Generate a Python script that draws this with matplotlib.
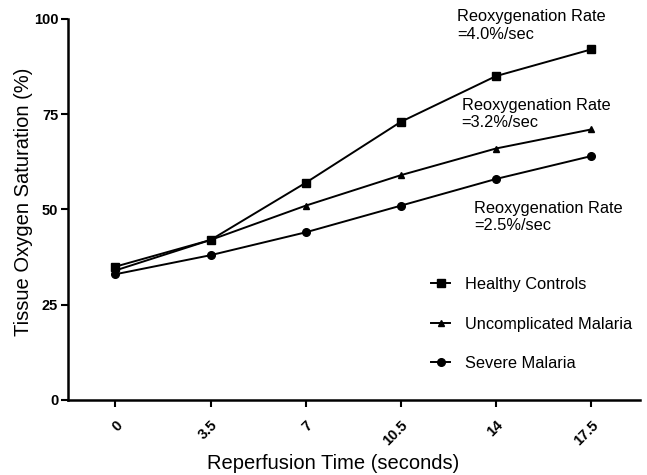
import matplotlib
matplotlib.use("Agg")
import matplotlib.pyplot as plt

plt.rcParams["font.family"] = ["Liberation Sans", "DejaVu Sans"]

times = [0, 3.5, 7, 10.5, 14, 17.5]
time_labels = ["0", "3.5", "7", "10.5", "14", "17.5"]
healthy = [35, 42, 57, 73, 85, 92]
uncomplicated = [34, 42, 51, 59, 66, 71]
severe = [33, 38, 44, 51, 58, 64]

fig = plt.figure(figsize=(6.47, 4.75), dpi=100)
ax = fig.add_axes([0.105, 0.158, 0.884, 0.802])

ax.plot(times, healthy, "-s", color="black", lw=1.4, ms=5.5, label="Healthy Controls")
ax.plot(times, uncomplicated, "-^", color="black", lw=1.4, ms=5, label="Uncomplicated Malaria")
ax.plot(times, severe, "-o", color="black", lw=1.4, ms=5.5, label="Severe Malaria")

ax.set_xlim(-1.75, 19.3)
ax.set_ylim(0, 100)
ax.set_yticks([0, 25, 50, 75, 100])
ax.set_xticks(times)
ax.set_xticklabels(time_labels, rotation=45, ha="right", rotation_mode="anchor")
for lab in ax.get_xticklabels() + ax.get_yticklabels():
    lab.set_fontweight("bold")
    lab.set_fontsize(10.5)
ax.tick_params(direction="out", length=5, width=1.5, pad=2)
ax.tick_params(axis="x", pad=8)

for s in ("top", "right"):
    ax.spines[s].set_visible(False)
for s in ("left", "bottom"):
    ax.spines[s].set_linewidth(1.8)

ax.set_ylabel("Tissue Oxygen Saturation (%)", fontsize=14.5)
ax.set_xlabel("Reperfusion Time (seconds)", fontsize=14.5)
ax.yaxis.set_label_coords(-0.061, 0.52)
ax.xaxis.set_label_coords(0.463, -0.142)

ax.text(12.56, 102.5, "Reoxygenation Rate\n=4.0%/sec", fontsize=11.8, va="top", clip_on=False)
ax.text(12.74, 79.3, "Reoxygenation Rate\n=3.2%/sec", fontsize=11.8, va="top")
ax.text(13.2, 52.2, "Reoxygenation Rate\n=2.5%/sec", fontsize=11.8, va="top")

ax.legend(loc="upper left", bbox_to_anchor=(0.643, 0.448), bbox_transform=fig.transFigure,
          frameon=False, fontsize=11.8, handlelength=1.2, labelspacing=1.5, handletextpad=0.9)

fig.savefig("out.png", dpi=100)
